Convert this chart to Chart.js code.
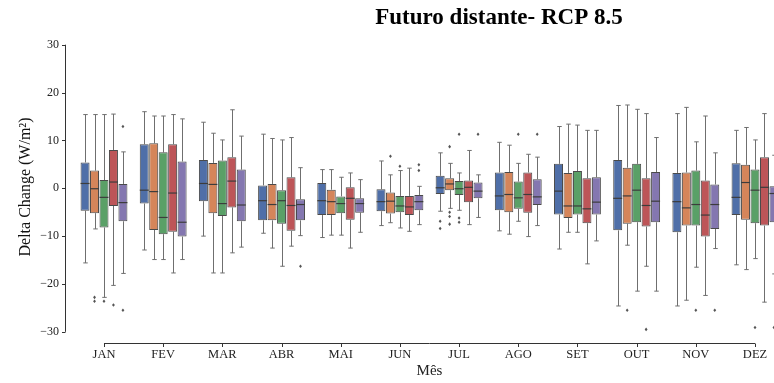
<!DOCTYPE html>
<html>
<head>
<meta charset="utf-8">
<script src="https://cdn.jsdelivr.net/npm/chart.js@4/dist/chart.umd.min.js"></script>
<style>
  html, body { margin: 0; padding: 0; background: #fff; overflow: hidden; }
  #wrap { position: relative; width: 800px; height: 383px; }
</style>
</head>
<body>
<div id="wrap"><canvas id="c"></canvas></div>
<script>
// ---------------- DATA ----------------
const months = ['JAN','FEV','MAR','ABR','MAI','JUN','JUL','AGO','SET','OUT','NOV','DEZ'];
const seriesNames = ['Série 1','Série 2','Série 3','Série 4','Série 5'];
const seriesColors = ['#4f6fa8','#d5855a','#5aa067','#bd5558','#8477b0'];
const yTicks = [-30,-20,-10,0,10,20,30];

// one row per series (blue, orange, green, red, purple), one value per month
const whiskerHigh = [
  [15.4, 16.0, 13.8, 11.3, 3.9, 5.7, 7.4, 9.6, 12.9, 17.3, 15.6, 12.1],
  [15.4, 15.1, 11.5, 10.4, 3.9, 2.8, 5.2, 9.0, 13.4, 17.4, 16.9, 12.7],
  [15.4, 15.1, 10.1, 10.1, 2.3, 3.7, 3.2, 5.2, 13.2, 16.5, 9.7, 10.1],
  [15.5, 15.4, 16.4, 10.6, 3.2, 4.2, 7.9, 7.1, 12.1, 15.6, 15.1, 15.6],
  [7.6, 14.5, 10.9, 4.3, 1.8, 0.4, 2.8, 6.5, 12.1, 10.6, 7.4, 6.9]
];
const quartile3 = [
  [5.4, 9.2, 5.9, 0.6, 1.1, -0.2, 2.6, 3.3, 5.1, 5.9, 3.2, 5.2],
  [3.7, 9.4, 5.3, 0.9, -0.3, -0.9, 2.1, 3.4, 3.2, 4.3, 3.3, 4.9],
  [1.7, 7.5, 5.8, -0.4, -1.7, -1.6, 1.5, 1.4, 3.6, 5.1, 3.7, 3.9],
  [8.0, 9.2, 6.5, 2.3, 0.2, -1.6, 1.6, 3.3, 2.1, 2.1, 1.6, 6.5],
  [0.9, 5.6, 3.9, -2.3, -2.1, -1.4, 1.2, 1.9, 2.3, 3.4, 0.8, 0.4]
];
const medians = [
  [1.0, -0.4, 1.0, -2.6, -2.6, -2.8, 0.1, -1.6, -0.6, -2.1, -2.8, -1.9],
  [-0.1, -0.7, 0.8, -3.4, -2.8, -2.7, 0.9, -1.3, -3.7, -1.6, -4.1, 1.2],
  [-1.9, -6.1, -3.2, -2.6, -3.2, -3.7, -0.1, -2.0, -3.7, -0.4, -3.4, -0.4],
  [1.3, -1.0, 1.5, -3.6, -2.1, -3.9, 0.2, -1.3, -4.3, -3.6, -5.6, 0.2],
  [-3.0, -7.1, -3.5, -3.4, -3.2, -2.8, -0.6, -1.8, -2.9, -2.7, -3.4, -1.1]
];
const quartile1 = [
  [-4.7, -3.2, -2.7, -6.7, -5.6, -4.8, -1.2, -4.6, -5.5, -8.8, -9.2, -5.6],
  [-5.2, -8.7, -5.2, -6.7, -5.6, -5.3, -0.4, -5.0, -6.2, -7.4, -7.8, -6.6],
  [-8.2, -9.6, -5.8, -7.4, -5.2, -5.0, -1.4, -4.3, -5.5, -7.1, -7.8, -7.3],
  [-3.7, -9.1, -4.0, -8.9, -6.6, -5.6, -2.9, -5.1, -7.3, -8.0, -10.1, -7.8],
  [-6.9, -10.1, -6.9, -6.7, -5.1, -4.6, -2.1, -3.5, -5.5, -7.1, -8.5, -7.1]
];
const whiskerLow = [
  [-15.6, -12.9, -10.0, -9.4, -10.3, -7.8, -4.8, -8.9, -12.7, -24.6, -24.6, -16.0],
  [-8.5, -14.9, -17.7, -12.5, -9.8, -7.2, -4.2, -9.6, -9.2, -11.9, -23.4, -17.0],
  [-22.8, -14.9, -17.7, -16.3, -9.8, -8.3, -4.6, -6.9, -9.2, -21.5, -16.5, -14.7],
  [-20.3, -17.7, -13.5, -12.1, -12.5, -9.0, -7.6, -10.1, -15.8, -16.3, -22.4, -23.8],
  [-17.8, -14.9, -12.3, -9.9, -9.2, -7.6, -6.1, -7.8, -11.0, -21.5, -12.6, -17.9]
];
const outliers = [
  [[], [], [], [], [], [], [-6.9, -8.4], [], [], [], [], []],
  [[-22.8, -23.6], [], [], [], [], [6.7], [8.7, -5.0, -5.9, -7.5], [], [], [-25.5], [], []],
  [[-23.6], [], [], [], [], [4.6], [11.3, -6.2, -7.1], [11.3], [], [], [-25.5], [-29.1]],
  [[-24.4], [], [], [], [], [], [], [], [], [-29.5], [], []],
  [[12.9, -25.5], [], [], [-16.3], [], [4.9, 3.7], [11.3], [11.3], [], [], [-25.5], [-29.1]]
];

// ---------------- CHART ----------------
const SERIF = '"Liberation Serif", "DejaVu Serif", serif';
const datasets = seriesNames.map((name, s) => ({
  label: name,
  data: months.map((m, j) => [quartile1[s][j], quartile3[s][j]]),
  backgroundColor: seriesColors[s],
  borderColor: '#4a4a4a',
  borderWidth: 1,
  borderSkipped: false,
  categoryPercentage: 0.8,
  barPercentage: 0.95
}));

const boxPlugin = {
  id: 'boxParts',
  beforeDatasetsDraw(chart) {
    const ctx = chart.ctx, y = chart.scales.y;
    ctx.save();
    ctx.strokeStyle = '#6f6f6f';
    ctx.lineWidth = 1;
    chart.data.datasets.forEach((ds, s) => {
      chart.getDatasetMeta(s).data.forEach((el, j) => {
        const x = Math.round(el.x) + 0.5, w = el.width;
        const yh = y.getPixelForValue(whiskerHigh[s][j]);
        const yl = y.getPixelForValue(whiskerLow[s][j]);
        const y3 = y.getPixelForValue(quartile3[s][j]);
        const y1 = y.getPixelForValue(quartile1[s][j]);
        ctx.beginPath();
        ctx.moveTo(x, y3); ctx.lineTo(x, yh);
        ctx.moveTo(x, y1); ctx.lineTo(x, yl);
        ctx.moveTo(x - w / 4, yh); ctx.lineTo(x + w / 4, yh);
        ctx.moveTo(x - w / 4, yl); ctx.lineTo(x + w / 4, yl);
        ctx.stroke();
      });
    });
    ctx.restore();
  },
  afterDatasetsDraw(chart) {
    const ctx = chart.ctx, y = chart.scales.y;
    ctx.save();
    chart.data.datasets.forEach((ds, s) => {
      chart.getDatasetMeta(s).data.forEach((el, j) => {
        const x = el.x, w = el.width;
        const ym = y.getPixelForValue(medians[s][j]);
        ctx.strokeStyle = '#3c3c3c';
        ctx.lineWidth = 1.2;
        ctx.beginPath();
        ctx.moveTo(x - w / 2, ym); ctx.lineTo(x + w / 2, ym);
        ctx.stroke();
        ctx.fillStyle = '#555';
        outliers[s][j].forEach(v => {
          const yo = y.getPixelForValue(v);
          const r = 1.8;
          ctx.beginPath();
          ctx.moveTo(x, yo - r); ctx.lineTo(x + r * 0.8, yo);
          ctx.lineTo(x, yo + r); ctx.lineTo(x - r * 0.8, yo);
          ctx.closePath(); ctx.fill();
        });
      });
    });
    ctx.restore();
  },
  afterDraw(chart) {
    const ctx = chart.ctx, xS = chart.scales.x, yS = chart.scales.y;
    const area = chart.chartArea;
    ctx.save();
    ctx.strokeStyle = '#333';
    ctx.lineWidth = 1;
    // y spine (offset, trimmed)
    const sx = Math.round(area.left - 9.4) + 0.5;
    const yTop = yS.getPixelForValue(yTicks[yTicks.length - 1]);
    const yBot = yS.getPixelForValue(yTicks[0]);
    ctx.beginPath();
    ctx.moveTo(sx, yTop); ctx.lineTo(sx, yBot);
    yTicks.forEach(v => {
      const py = Math.round(yS.getPixelForValue(v)) + 0.5;
      ctx.moveTo(sx - 3.5, py); ctx.lineTo(sx, py);
    });
    ctx.stroke();
    // x spine (trimmed between first and last category)
    const by = Math.round(area.bottom) + 0.5;
    const x0 = xS.getPixelForValue(0), x1 = xS.getPixelForValue(months.length - 1);
    ctx.beginPath();
    ctx.moveTo(x0, by); ctx.lineTo(x1, by);
    months.forEach((m, j) => {
      const px = Math.round(xS.getPixelForValue(j)) + 0.5;
      ctx.moveTo(px, by); ctx.lineTo(px, by + 3.5);
    });
    ctx.stroke();
    // y-axis title
    ctx.fillStyle = '#111';
    ctx.font = '16px ' + SERIF;
    ctx.textAlign = 'center';
    ctx.textBaseline = 'middle';
    ctx.translate(26, 187);
    ctx.rotate(-Math.PI / 2);
    ctx.fillText('Delta Change (W/m²)', 0, 0);
    ctx.restore();
    // chart title
    ctx.save();
    ctx.fillStyle = '#000';
    ctx.font = 'bold 23px ' + SERIF;
    ctx.textAlign = 'center';
    ctx.textBaseline = 'middle';
    ctx.fillText('Futuro distante- RCP 8.5', 499, 18);
    ctx.restore();
  }
};

new Chart(document.getElementById('c'), {
  type: 'bar',
  data: { labels: months, datasets },
  plugins: [boxPlugin],
  options: {
    responsive: true,
    maintainAspectRatio: false,
    animation: false,
    layout: { padding: { top: 44.7, right: 15.4, bottom: 0, left: 0 } },
    plugins: {
      legend: { display: false },
      tooltip: { enabled: false },
      title: { display: false }
    },
    scales: {
      x: {
        type: 'category',
        offset: true,
        grid: { display: false, drawTicks: false },
        border: { display: false },
        ticks: { color: '#222', font: { family: SERIF, size: 12.5 }, padding: 4, maxRotation: 0, autoSkip: false },
        title: { display: true, text: 'Mês', color: '#222', font: { family: SERIF, size: 15 }, padding: { top: 0, bottom: 2.6 } },
        afterFit: (s) => { s.height = 39.7; }
      },
      y: {
        min: -32.4,
        max: 30,
        grid: { display: false, drawTicks: false },
        border: { display: false },
        afterBuildTicks: (s) => { s.ticks = yTicks.map(v => ({ value: v })); },
        ticks: {
          color: '#222',
          font: { family: SERIF, size: 12 },
          padding: 15.4,
          callback: (v) => (v < 0 ? '\u2212' + Math.abs(v) : String(v))
        },
        afterFit: (s) => { s.width = 74.4; }
      }
    }
  }
});
</script>
</body>
</html>
